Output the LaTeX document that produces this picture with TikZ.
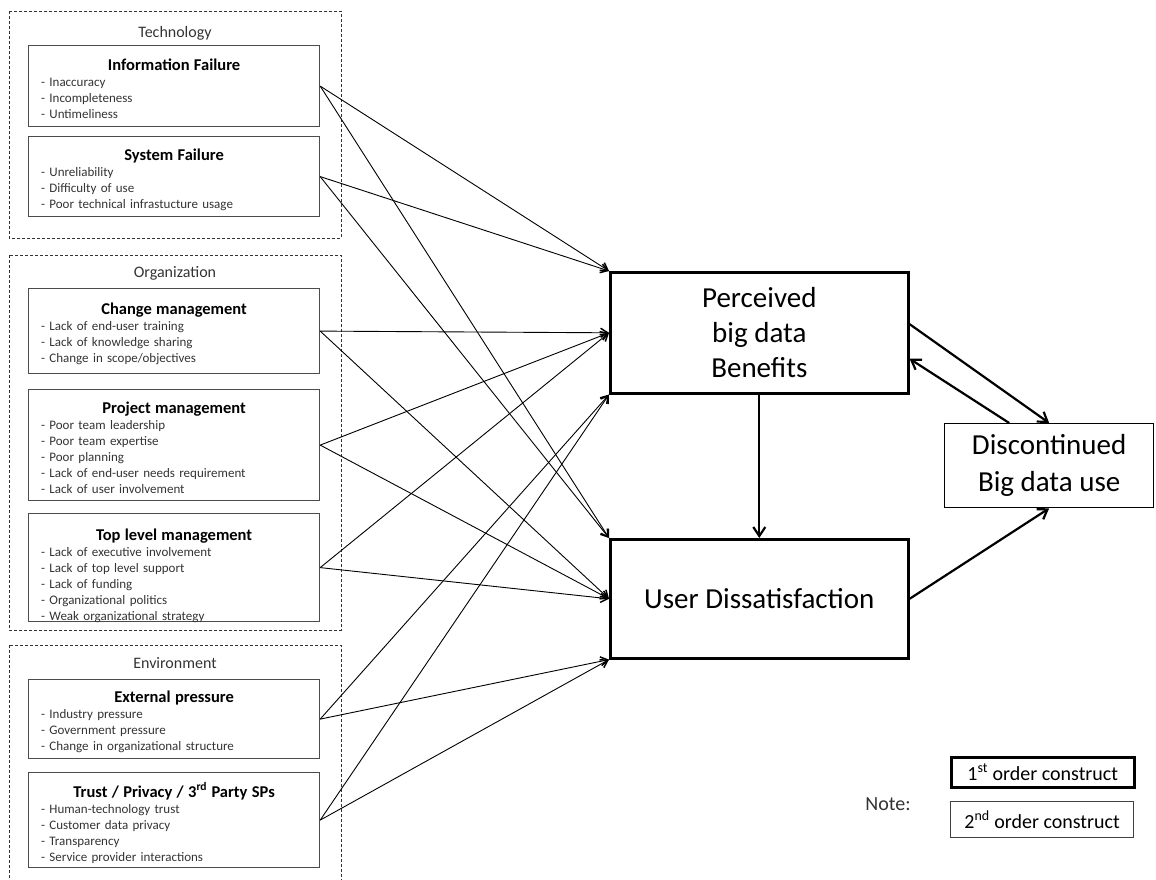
\documentclass[tikz,border=0pt]{standalone}
\usepackage{fontspec}
\setmainfont{Carlito}
\usepackage{tikz}
\usetikzlibrary{arrows.meta,positioning,calc}
\newcommand{\FT}[1]{{\centering\bfseries\color{black}\fontsize{16.5}{16}\selectfont #1\par}}
\newcommand{\FE}[1]{\endgraf\vspace{-#1}}

\begin{document}
\begin{tikzpicture}[
  x=1pt, y=-1pt,
  group/.style={draw=black!80, line width=0.8pt, dash pattern=on 3pt off 2pt},
  grouptitle/.style={font=\fontsize{16}{19}\selectfont, text=black!80},
  factor/.style={draw=black!70, line width=1.2pt, anchor=north west, minimum width=291pt,
                 text width=266pt, inner xsep=12.5pt, inner ysep=2pt, align=left,
                 font=\fontsize{13}{16}\selectfont, text=black!80,
                 execute at end node={\FE{6pt}}},
  first/.style={draw, line width=2.6pt, anchor=north west, align=center,
                font=\fontsize{29}{35}\selectfont},
  second/.style={draw, line width=1.3pt, anchor=north west, align=center,
                 font=\fontsize{29}{37}\selectfont},
  link/.style={-{Straight Barb[length=7pt,width=9pt,line width=1.5pt]}, line width=0.9pt},
  mainlink/.style={-{Straight Barb[length=9pt,width=12pt,line width=2.2pt]}, line width=2.2pt}
]
  \clip (0,0) rectangle (1156,880);

  % Groups
  \draw[group] (9,11) rectangle (341,238);
  \draw[group] (9,255) rectangle (341,630);
  \draw[group] (9,645) rectangle (341,900);
  \node[grouptitle] (techlabel) at (175,33) {Technology};
  \node[grouptitle] (orglabel) at (175,273) {Organization};
  \node[grouptitle] (envlabel) at (175,663) {Environment};

  % Technology
  \node[factor, minimum height=81pt] (info) at (28,45)
    {\FT{Information Failure}- Inaccuracy\\- Incompleteness\\- Untimeliness};
  \node[factor, minimum height=80pt] (sysf) at (28,136)
    {\FT{System Failure}- Unreliability\\- Difficulty of use\\- Poor technical infrastucture usage};

  % Organization
  \node[factor, minimum height=85pt] (chg) at (28,288)
    {\FT{Change management}- Lack of end-user training\\- Lack of knowledge sharing\\- Change in scope/objectives};
  \node[factor, minimum height=111pt] (proj) at (28,389)
    {\FT{Project management}- Poor team leadership\\- Poor team expertise\\- Poor planning\\- Lack of end-user needs requirement\\- Lack of user involvement};
  \node[factor, minimum height=108pt, execute at end node={\FE{10pt}}] (topm) at (28,513)
    {\FT{Top level management}- Lack of executive involvement\\- Lack of top level support\\- Lack of funding\\- Organizational politics\\- Weak organizational strategy};

  % Environment
  \node[factor, minimum height=79pt] (ext) at (28,679)
    {\FT{External pressure}- Industry pressure\\- Government pressure\\- Change in organizational structure};
  \node[factor, minimum height=95pt] (trust) at (28,772)
    {\FT{Trust / Privacy / 3\textsuperscript{rd} Party SPs}- Human-technology trust\\- Customer data privacy\\- Transparency\\- Service provider interactions};

  % Constructs
  \node[first, minimum width=298pt, minimum height=121pt] (per) at (609,271) {Perceived\\big data\\Benefits};
  \node[first, minimum width=298pt, minimum height=119pt] (uds) at (609,538) {User Dissatisfaction};
  \node[second, minimum width=209pt, minimum height=84pt] (dis) at (944,423) {Discontinued\\Big data use};

  % Arrows
  \draw[link] (info.east) -- (per.north west);
  \draw[link] (info.east) -- (uds.north west);
  \draw[link] (sysf.east) -- (per.north west);
  \draw[link] (sysf.east) -- (uds.north west);
  \draw[link] (chg.east) -- (per.west);
  \draw[link] (chg.east) -- (uds.west);
  \draw[link] (proj.east) -- (per.west);
  \draw[link] (proj.east) -- (uds.west);
  \draw[link] (topm.east) -- (per.west);
  \draw[link] (topm.east) -- (uds.west);
  \draw[link] (ext.east) -- (per.south west);
  \draw[link] (ext.east) -- (uds.south west);
  \draw[link] (trust.east) -- (per.south west);
  \draw[link] (trust.east) -- (uds.south west);

  \draw[mainlink] (per.south) -- (uds.north);
  \draw[mainlink] ($(per.north east)!0.43!(per.south east)$) -- (dis.north);
  \draw[mainlink] ($(dis.north west)!0.31!(dis.north east)$) -- ($(per.north east)!0.71!(per.south east)$);
  \draw[mainlink] (uds.east) -- (dis.south);

  % Legend
  \node[first, font=\fontsize{20}{24}\selectfont, minimum width=183pt, minimum height=30pt] (leg1) at (950,756)
    {1\textsuperscript{st} order construct};
  \node[second, draw=black!75, font=\fontsize{20}{24}\selectfont, minimum width=183pt, minimum height=36pt] (leg2) at (950,801)
    {2\textsuperscript{nd} order construct};
  \node[font=\fontsize{20}{24}\selectfont, text=black!80] (note) at (888,804) {Note:};

\end{tikzpicture}
\end{document}
